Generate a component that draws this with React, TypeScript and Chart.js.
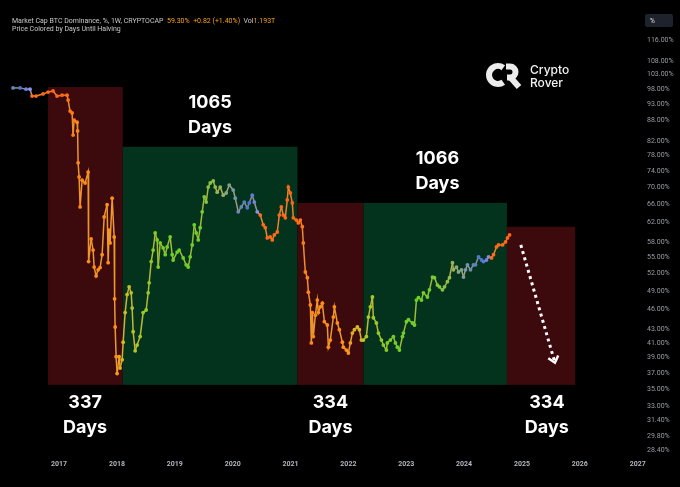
import React, { useEffect, useRef } from "react";
import { Chart, registerables } from "chart.js";

Chart.register(...registerables);

// ---- data ----
const weekYears = [
  2016.204, 2016.325, 2016.429, 2016.498, 2016.533, 2016.602, 2016.723, 2016.81, 2016.896, 2016.965,
  2017.052, 2017.138, 2017.156, 2017.19, 2017.225, 2017.242, 2017.26, 2017.311, 2017.32, 2017.329,
  2017.346, 2017.363, 2017.398, 2017.45, 2017.502, 2017.51, 2017.554, 2017.588, 2017.606, 2017.64,
  2017.675, 2017.709, 2017.744, 2017.779, 2017.83, 2017.848, 2017.865, 2017.882, 2017.917, 2017.952,
  2017.96, 2017.969, 2017.986, 2018.003, 2018.038, 2018.055, 2018.09, 2018.107, 2018.142, 2018.176,
  2018.211, 2018.246, 2018.263, 2018.28, 2018.315, 2018.349, 2018.401, 2018.453, 2018.505, 2018.54,
  2018.557, 2018.592, 2018.626, 2018.661, 2018.695, 2018.713, 2018.747, 2018.799, 2018.834, 2018.868,
  2018.92, 2018.955, 2018.972, 2019.041, 2019.076, 2019.145, 2019.197, 2019.232, 2019.266, 2019.301,
  2019.336, 2019.37, 2019.405, 2019.439, 2019.474, 2019.509, 2019.543, 2019.578, 2019.612, 2019.664,
  2019.699, 2019.733, 2019.785, 2019.837, 2019.889, 2019.941, 2020.01, 2020.045, 2020.097, 2020.149,
  2020.201, 2020.252, 2020.287, 2020.339, 2020.374, 2020.425, 2020.477, 2020.529, 2020.564, 2020.598,
  2020.65, 2020.685, 2020.72, 2020.771, 2020.806, 2020.841, 2020.875, 2020.91, 2020.944, 2020.962,
  2020.996, 2021.031, 2021.048, 2021.1, 2021.135, 2021.169, 2021.204, 2021.221, 2021.256, 2021.291,
  2021.308, 2021.343, 2021.36, 2021.377, 2021.394, 2021.429, 2021.463, 2021.481, 2021.515, 2021.55,
  2021.585, 2021.636, 2021.654, 2021.688, 2021.74, 2021.758, 2021.809, 2021.844, 2021.896, 2021.913,
  2021.965, 2022.0, 2022.034, 2022.069, 2022.104, 2022.155, 2022.19, 2022.225, 2022.259, 2022.311,
  2022.346, 2022.38, 2022.415, 2022.432, 2022.484, 2022.519, 2022.571, 2022.605, 2022.657, 2022.674,
  2022.726, 2022.778, 2022.813, 2022.847, 2022.882, 2022.934, 2022.951, 2023.003, 2023.038, 2023.107,
  2023.142, 2023.176, 2023.211, 2023.263, 2023.297, 2023.366, 2023.401, 2023.453, 2023.488, 2023.539,
  2023.574, 2023.626, 2023.661, 2023.712, 2023.747, 2023.799, 2023.816, 2023.868, 2023.903, 2023.955,
  2023.989, 2024.024, 2024.058, 2024.11, 2024.162, 2024.197, 2024.249, 2024.301, 2024.335, 2024.387,
  2024.422, 2024.474, 2024.508, 2024.56, 2024.595, 2024.664, 2024.716, 2024.75, 2024.785,
];

const dominance = [
  98.4, 98.4, 98.0, 98.0, 95.7, 95.7, 96.4, 97.0, 97.4, 95.7,
  96.0, 96.0, 94.4, 90.9, 90.3, 83.7, 88.1, 87.5, 84.9, 76.1,
  72.5, 65.4, 71.7, 71.0, 73.7, 54.2, 58.6, 56.4, 53.2, 51.6,
  52.7, 53.1, 55.5, 63.2, 65.9, 54.0, 60.4, 57.8, 67.4, 59.0,
  47.7, 43.3, 39.1, 36.9, 39.1, 37.6, 38.7, 41.1, 45.5, 48.4,
  49.7, 48.7, 46.2, 42.6, 39.9, 40.7, 41.9, 45.5, 45.9, 48.7,
  50.4, 54.2, 56.4, 59.8, 58.4, 53.2, 57.8, 56.8, 55.5, 57.0,
  59.0, 55.5, 54.5, 56.0, 56.4, 54.9, 53.6, 53.2, 55.1, 57.4,
  61.5, 59.8, 58.4, 60.9, 64.3, 67.7, 66.5, 70.0, 71.0, 71.5,
  70.0, 68.8, 70.0, 68.1, 68.6, 70.5, 69.3, 67.4, 64.3, 65.4,
  66.5, 65.2, 66.3, 68.1, 66.5, 64.3, 63.6, 61.5, 60.9, 58.8,
  59.0, 58.4, 59.4, 60.0, 63.6, 65.4, 63.6, 63.0, 67.0, 70.0,
  68.6, 66.3, 63.0, 62.5, 61.9, 62.5, 61.1, 57.8, 52.3, 51.3,
  48.8, 46.7, 41.0, 45.5, 41.9, 45.1, 47.5, 45.5, 46.4, 47.0,
  44.1, 43.6, 40.4, 41.4, 44.8, 46.4, 43.9, 42.9, 41.1, 40.4,
  40.0, 39.6, 41.0, 42.4, 42.9, 43.3, 42.9, 41.4, 41.4, 41.9,
  44.8, 46.4, 48.0, 44.7, 43.9, 42.4, 41.4, 40.7, 40.0, 41.0,
  41.4, 41.9, 41.0, 40.4, 40.0, 41.9, 42.4, 44.1, 44.4, 43.9,
  43.6, 47.5, 47.9, 47.5, 48.7, 48.0, 49.2, 51.4, 51.3, 50.0,
  49.7, 49.2, 49.7, 50.6, 51.3, 54.0, 52.7, 53.2, 52.3, 52.7,
  51.4, 52.7, 53.6, 52.7, 53.6, 53.6, 55.1, 54.5, 54.2, 54.5,
  55.1, 54.9, 55.5, 57.0, 57.4, 57.4, 58.0, 58.8, 59.4,
];

const yearTicks = [2017, 2018, 2019, 2020, 2021, 2022, 2023, 2024, 2025, 2026, 2027];
const percentTicks = [
  116, 108, 103, 98, 93, 88, 82, 78, 74, 70, 66, 62, 58, 55, 52, 49, 46, 43, 41, 39, 37, 35, 33, 31.4, 29.8, 28.4,
];

// cycle boxes
const cycleStart = [2016.81, 2018.1, 2021.12, 2022.26, 2024.74];
const cycleEnd = [2018.1, 2021.12, 2022.26, 2024.74, 2025.92];
const cycleTop = [98.7, 80.4, 66.3, 66.3, 61.1];
const cycleBottom = 35.5;
const cycleBull = [false, true, false, true, false];
const cycleDays = ["337", "1065", "334", "1066", "334"];
const cycleLabelYear = [2017.45, 2019.61, 2021.69, 2023.54, 2025.43];

// projection arrow (year, %)
const arrowFrom = [2024.98, 57.4];
const arrowTo = [2025.57, 38.3];

// halving dates used for colouring
const halvings = [2016.52, 2020.46, 2024.47, 2028.3];

// ---- view / style ----
const X_MIN = 2015.979;
const X_MAX = 2027.04;
const Y_MIN = 27.9;
const Y_MAX = 128.6;

const colorStops: [number, number[]][] = [
  [0, [160, 150, 230]],
  [60, [70, 115, 215]],
  [160, [120, 150, 175]],
  [260, [150, 185, 80]],
  [400, [105, 210, 40]],
  [620, [115, 205, 40]],
  [770, [170, 200, 40]],
  [860, [215, 185, 35]],
  [905, [255, 145, 25]],
  [1150, [255, 135, 25]],
  [1250, [255, 100, 22]],
  [1600, [248, 118, 30]],
];

function rgbForYear(y: number): number[] {
  const next = halvings.find((h) => h > y) ?? halvings[halvings.length - 1];
  const d = (next - y) * 365.25;
  for (let i = 0; i < colorStops.length - 1; i++) {
    const [d0, c0] = colorStops[i];
    const [d1, c1] = colorStops[i + 1];
    if (d >= d0 && d <= d1) {
      const t = (d - d0) / (d1 - d0);
      return c0.map((v, k) => Math.round(v + (c1[k] - v) * t));
    }
  }
  return colorStops[colorStops.length - 1][1];
}

const pointColors = weekYears.map((y) => {
  const c = rgbForYear(y);
  return `rgb(${c[0]},${c[1]},${c[2]})`;
});
const lineColors = weekYears.map((y) => {
  const c = rgbForYear(y);
  const tan = [215, 165, 70];
  const m = c.map((v, k) => Math.round(v * 0.55 + tan[k] * 0.45));
  return `rgb(${m[0]},${m[1]},${m[2]})`;
});

const decorPlugin = {
  id: "decor",
  beforeDraw(chart: any) {
    const ctx = chart.ctx;
    ctx.save();
    ctx.fillStyle = "#000000";
    ctx.fillRect(0, 0, chart.width, chart.height);
    ctx.restore();
  },
  beforeDatasetsDraw(chart: any) {
    const ctx = chart.ctx;
    const xs = chart.scales.x;
    const ys = chart.scales.y;
    ctx.save();
    for (let i = 0; i < cycleStart.length; i++) {
      const x0 = xs.getPixelForValue(cycleStart[i]);
      const x1 = xs.getPixelForValue(cycleEnd[i]);
      const y0 = ys.getPixelForValue(cycleTop[i]);
      const y1 = ys.getPixelForValue(cycleBottom);
      ctx.fillStyle = cycleBull[i] ? "#04331d" : "#3c0a0d";
      ctx.fillRect(x0, y0, x1 - x0, y1 - y0);
    }
    ctx.restore();
  },
  afterDraw(chart: any) {
    const ctx = chart.ctx;
    const xs = chart.scales.x;
    const ys = chart.scales.y;
    ctx.save();

    // cycle day labels
    ctx.fillStyle = "#ffffff";
    ctx.font = "bold 18px Inter, 'Open Sans', sans-serif";
    ctx.textAlign = "center";
    ctx.textBaseline = "middle";
    for (let i = 0; i < cycleStart.length; i++) {
      const cx = xs.getPixelForValue(cycleLabelYear[i]);
      let l1: number, l2: number;
      if (cycleBull[i]) {
        const top = ys.getPixelForValue(cycleTop[i]);
        l1 = top - 44;
        l2 = top - 19;
      } else {
        const bot = ys.getPixelForValue(cycleBottom);
        l1 = bot + 18;
        l2 = bot + 43;
      }
      ctx.fillText(cycleDays[i], cx, l1);
      ctx.fillText("Days", cx, l2);
    }

    // dotted arrow
    const ax0 = xs.getPixelForValue(arrowFrom[0]);
    const ay0 = ys.getPixelForValue(arrowFrom[1]);
    const ax1 = xs.getPixelForValue(arrowTo[0]);
    const ay1 = ys.getPixelForValue(arrowTo[1]);
    ctx.strokeStyle = "#ffffff";
    ctx.lineWidth = 3;
    ctx.setLineDash([3, 3.5]);
    ctx.beginPath();
    ctx.moveTo(ax0, ay0);
    ctx.lineTo(ax1, ay1);
    ctx.stroke();
    ctx.setLineDash([]);
    const ang = Math.atan2(ay1 - ay0, ax1 - ax0);
    ctx.lineWidth = 2.5;
    ctx.beginPath();
    ctx.moveTo(ax1 - 8 * Math.cos(ang - 0.7), ay1 - 8 * Math.sin(ang - 0.7));
    ctx.lineTo(ax1, ay1);
    ctx.lineTo(ax1 - 8 * Math.cos(ang + 0.7), ay1 - 8 * Math.sin(ang + 0.7));
    ctx.stroke();

    // header
    ctx.textAlign = "left";
    ctx.textBaseline = "middle";
    ctx.font = "7px Roboto, 'DejaVu Sans', sans-serif";
    const parts: [string, string][] = [
      ["Market Cap BTC Dominance, %, 1W, CRYPTOCAP  ", "#c8c8c8"],
      ["59.30%  +0.82 (+1.40%)  ", "#f7a21b"],
      ["Vol", "#c8c8c8"],
      ["1.193T", "#f7a21b"],
    ];
    let hx = 12;
    for (const [t, c] of parts) {
      ctx.fillStyle = c;
      ctx.fillText(t, hx, 21);
      hx += ctx.measureText(t).width;
    }
    ctx.fillStyle = "#c8c8c8";
    ctx.fillText("Price Colored by Days Until Halving", 12, 29);

    // % button
    ctx.fillStyle = "#1e222d";
    ctx.beginPath();
    (ctx as any).roundRect ? (ctx as any).roundRect(645, 14, 28, 13, 2) : ctx.rect(645, 14, 28, 13);
    ctx.fill();
    ctx.fillStyle = "#e0e0e0";
    ctx.font = "6.5px Roboto, sans-serif";
    ctx.fillText("%", 650, 21);

    // logo
    ctx.strokeStyle = "#ececec";
    ctx.lineWidth = 6;
    ctx.lineCap = "butt";
    ctx.beginPath();
    ctx.arc(498, 75, 9, 0.3 * Math.PI, 1.7 * Math.PI);
    ctx.stroke();
    ctx.beginPath();
    ctx.moveTo(506, 66.5);
    ctx.lineTo(510, 66.5);
    ctx.arc(510, 72, 5.5, -Math.PI / 2, Math.PI / 2);
    ctx.lineTo(507, 77.5);
    ctx.stroke();
    ctx.beginPath();
    ctx.moveTo(511, 78);
    ctx.lineTo(519, 87);
    ctx.stroke();
    ctx.fillStyle = "#f2f2f2";
    ctx.font = "500 12px Inter, Roboto, sans-serif";
    ctx.fillText("Crypto", 530, 70);
    ctx.fillText("Rover", 530, 83);

    ctx.restore();
  },
};

export default function App() {
  const ref = useRef<HTMLCanvasElement | null>(null);

  useEffect(() => {
    if (!ref.current) return;
    const chart = new Chart(ref.current, {
      type: "line",
      data: {
        datasets: [
          {
            data: weekYears.map((x, i) => ({ x, y: dominance[i] })),
            borderWidth: 1.5,
            pointRadius: 1.9,
            pointBorderWidth: 0,
            pointBackgroundColor: pointColors,
            pointBorderColor: pointColors,
            borderColor: "#d0a040",
            segment: {
              borderColor: (c: any) => lineColors[c.p0DataIndex],
            },
            tension: 0,
          } as any,
        ],
      },
      options: {
        animation: false,
        responsive: false,
        layout: { autoPadding: false, padding: { top: 10, left: 0, right: 0, bottom: 0 } },
        plugins: { legend: { display: false }, tooltip: { enabled: false } },
        scales: {
          x: {
            type: "linear",
            min: X_MIN,
            max: X_MAX,
            grid: { display: false, drawTicks: false },
            border: { display: false },
            afterBuildTicks: (s: any) => {
              s.ticks = yearTicks.map((v) => ({ value: v }));
            },
            afterFit: (s: any) => {
              s.height = 32;
              s.paddingLeft = 0;
              s.paddingRight = 0;
            },
            ticks: {
              color: "#b2b5be",
              font: { family: "Roboto, sans-serif", size: 7, weight: "bold" },
              padding: 5,
              autoSkip: false,
              maxRotation: 0,
              callback: (v: any) => String(v),
            },
          },
          y: {
            type: "logarithmic",
            position: "right",
            min: Y_MIN,
            max: Y_MAX,
            grid: { display: false, drawTicks: false },
            border: { display: false },
            afterBuildTicks: (s: any) => {
              s.ticks = percentTicks.map((v) => ({ value: v }));
            },
            afterFit: (s: any) => {
              s.width = 40;
              s.paddingTop = 0;
              s.paddingBottom = 0;
            },
            ticks: {
              color: "#9a9da6",
              font: { family: "Roboto, sans-serif", size: 7 },
              padding: 7,
              autoSkip: false,
              callback: (v: any) => Number(v).toFixed(2) + "%",
            },
          },
        },
      } as any,
      plugins: [decorPlugin],
    });
    return () => chart.destroy();
  }, []);

  return (
    <div style={{ position: "fixed", left: 0, top: 0, width: 680, height: 487, background: "#000" }}>
      <canvas ref={ref} width={680} height={487} style={{ display: "block" }} />
    </div>
  );
}
